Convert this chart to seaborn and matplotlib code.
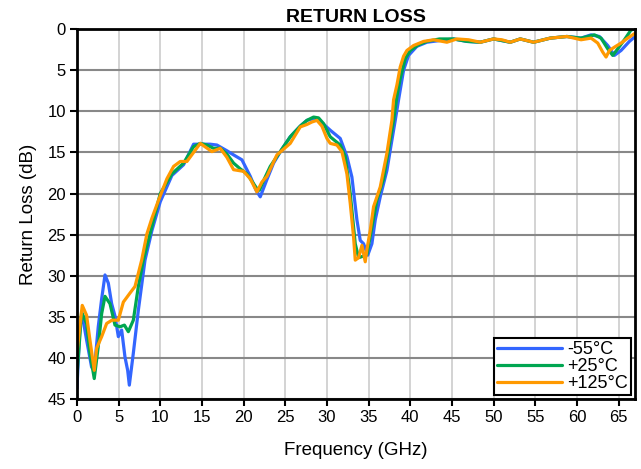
import numpy as np
import pandas as pd
import matplotlib
matplotlib.use("Agg")
import matplotlib.pyplot as plt
import seaborn as sns

series_names = ["-55°C", "+25°C", "+125°C"]
colors = ["#3366ff", "#00a651", "#ff9900"]

x_m55 = [0, 0.36, 0.64, 1.16, 1.76, 2.08, 2.56, 2.97, 3.37, 3.77,
         4.17, 4.57, 4.97, 5.37, 5.77, 6.09, 6.29, 6.77, 7.37, 8.17,
         9.0, 10.0, 11.4, 12.8, 14.0, 15.0, 16.0, 16.8, 18.0, 18.8,
         19.8, 20.8, 21.5, 22.0, 22.8, 23.6, 24.6, 25.6, 26.8, 27.6,
         28.4, 29.2, 30.4, 31.6, 32.4, 33.0, 33.6, 34.0, 34.4, 34.9,
         35.4, 35.8, 36.4, 37.2, 37.8, 38.2, 38.6, 39.2, 39.8, 40.8,
         42.0, 43.5, 45.2, 46.8, 48.4, 50, 52, 53.2, 54.8, 56.8,
         58.8, 60.5, 61.7, 62.7, 63.7, 64.5, 65.3, 66.3, 67]
y_m55 = [43.7, 36.2, 34.8, 37.8, 41.1, 41.5, 36.2, 32.8, 29.9, 30.9,
         33.4, 34.9, 37.4, 36.6, 39.9, 41.5, 43.3, 39.4, 34.2, 28.1,
         24.5, 21.0, 17.8, 16.5, 14.0, 14.0, 14.0, 14.1, 14.8, 15.3,
         15.9, 17.9, 19.6, 20.4, 18.3, 16.3, 14.6, 13.1, 11.8, 11.1,
         10.9, 11.2, 12.3, 13.3, 15.5, 18.0, 23.2, 25.7, 26.1, 27.5,
         26.1, 23.2, 20.4, 17.2, 13.5, 11.1, 8.6, 5.0, 3.2, 2.1,
         1.6, 1.4, 1.2, 1.5, 1.6, 1.2, 1.6, 1.2, 1.6, 1.1,
         0.9, 1.1, 0.7, 0.9, 2.0, 3.2, 2.6, 1.5, 0.9]

x_p25 = [0, 0.56, 1.16, 1.56, 2.08, 2.56, 2.97, 3.37, 3.97, 4.57,
         5.17, 5.7, 6.17, 6.77, 7.37, 7.97, 9.0, 10.0, 11.4, 12.8,
         14.0, 14.8, 15.6, 16.4, 17.2, 18.0, 18.8, 19.6, 20.4, 21.0,
         21.6, 21.9, 22.5, 23.2, 24.4, 25.6, 26.8, 27.6, 28.4, 29.0,
         29.6, 30.4, 31.6, 32.2, 32.8, 33.4, 33.8, 34.4, 34.8, 35.4,
         36.0, 36.8, 37.6, 38.0, 38.4, 38.8, 39.4, 40.0, 41.0, 42.0,
         43.5, 45.2, 46.8, 48.4, 50, 52, 53.2, 54.8, 56.8, 58.8,
         60.5, 62.1, 62.9, 63.7, 64.3, 64.9, 65.7, 66.5, 67]
y_p25 = [42.3, 34.4, 35.8, 39.4, 42.5, 38.6, 34.6, 32.5, 33.4, 36.0,
         36.2, 36.0, 36.8, 35.4, 31.3, 28.1, 24.0, 20.0, 17.6, 16.3,
         14.3, 13.9, 14.1, 14.5, 14.5, 15.2, 16.3, 17.0, 17.6, 18.5,
         19.4, 19.6, 18.2, 16.7, 14.9, 13.1, 11.8, 11.1, 10.7, 10.8,
         11.5, 13.1, 14.1, 15.5, 20.0, 26.1, 27.8, 27.6, 27.4, 24.1,
         20.8, 18.2, 13.5, 11.1, 8.2, 6.0, 3.6, 2.6, 1.9, 1.5,
         1.2, 1.2, 1.5, 1.6, 1.2, 1.6, 1.2, 1.6, 1.1, 0.9,
         1.1, 0.7, 1.1, 2.4, 3.2, 2.4, 1.3, 0.1, 0.0]

x_p125 = [0, 0.64, 1.16, 1.56, 2.08, 2.37, 2.97, 3.57, 4.2, 4.97,
          5.57, 6.37, 6.97, 7.77, 8.4, 9.0, 9.8, 10.8, 11.6, 12.4,
          13.2, 14.0, 14.8, 15.5, 16.2, 17.2, 18.0, 18.8, 20.0, 20.8,
          21.6, 22.2, 22.8, 24.0, 25.6, 26.8, 27.6, 28.2, 28.8, 29.4,
          30.0, 30.4, 31.2, 31.8, 32.4, 32.8, 33.2, 33.4, 33.8, 34.2,
          34.6, 34.8, 35.2, 35.6, 36.4, 37.2, 37.8, 38.0, 38.4, 38.8,
          39.2, 39.6, 40.4, 41.6, 42.8, 44.4, 45.6, 47.0, 48.4, 50,
          51.0, 52, 53.2, 54.8, 56.8, 58.8, 60.5, 61.7, 62.5, 63.1,
          63.5, 63.9, 64.5, 65.3, 66.1, 67]
y_p125 = [39.4, 33.6, 34.8, 37.8, 41.5, 38.8, 37.4, 35.8, 35.4, 35.4,
          33.2, 32.1, 31.3, 28.1, 24.9, 23.0, 20.8, 18.2, 16.7, 16.1,
          16.1, 15.0, 13.9, 14.4, 14.9, 14.5, 15.6, 17.1, 17.3, 18.2,
          19.8, 18.6, 17.9, 15.3, 13.9, 11.9, 11.6, 11.3, 11.1, 11.8,
          13.3, 13.9, 14.1, 14.9, 17.6, 21.2, 25.3, 28.1, 27.8, 26.3,
          28.3, 26.8, 24.5, 21.6, 19.2, 15.1, 11.1, 8.6, 6.8, 4.6,
          3.3, 2.6, 2.0, 1.5, 1.3, 1.6, 1.2, 1.3, 1.6, 1.2,
          1.3, 1.6, 1.2, 1.6, 1.1, 0.9, 1.3, 1.1, 1.7, 2.8,
          3.4, 2.6, 2.2, 1.7, 1.1, 0.5]

x_ticks = list(range(0, 70, 5))
y_ticks = list(range(0, 50, 5))

frames = []
for name, xs, ys in zip(series_names, [x_m55, x_p25, x_p125], [y_m55, y_p25, y_p125]):
    frames.append(pd.DataFrame({"freq": xs, "rl": ys, "temp": name}))
df = pd.concat(frames, ignore_index=True)

sns.set_style("white")
plt.rcParams["font.family"] = ["Liberation Sans", "DejaVu Sans"]
plt.rcParams["text.color"] = "black"
plt.rcParams["axes.labelcolor"] = "black"
plt.rcParams["xtick.color"] = "black"
plt.rcParams["ytick.color"] = "black"

fig = plt.figure(figsize=(6.41, 4.69), dpi=100)
ax = fig.add_axes([0.120, 0.149, 0.871, 0.789])

sns.lineplot(data=df, x="freq", y="rl", hue="temp", hue_order=series_names,
             palette=colors, estimator=None, sort=False, linewidth=2.3, ax=ax)

ax.set_xlim(0, 67)
ax.set_ylim(45, 0)
ax.set_xticks(x_ticks)
ax.set_yticks(y_ticks)
ax.xaxis.grid(True, color="#cccccc", linewidth=1.2)
ax.yaxis.grid(True, color="#888888", linewidth=1.5)
ax.set_axisbelow(True)
for s in ax.spines.values():
    s.set_color("black")
    s.set_linewidth(2)
ax.tick_params(axis="both", direction="out", length=5, width=1.5, labelsize=12, color="black",
               labelcolor="black", bottom=True, left=True, pad=3)
ax.set_xlabel("Frequency (GHz)", fontsize=13.5, labelpad=12, color="black")
ax.set_ylabel("Return Loss (dB)", fontsize=13.5, labelpad=7, color="black")
ax.set_title("RETURN LOSS", fontsize=14, fontweight="bold", pad=5, color="black")

leg = ax.legend(loc="lower right", fontsize=13, handlelength=3.6, handletextpad=0.3,
                borderpad=0.15, labelspacing=0.0, fancybox=False, framealpha=1,
                borderaxespad=0.25)
leg.get_frame().set_edgecolor("black")
leg.get_frame().set_linewidth(1.5)
for t in leg.get_texts():
    t.set_color("black")

fig.savefig("out.png", dpi=100)
